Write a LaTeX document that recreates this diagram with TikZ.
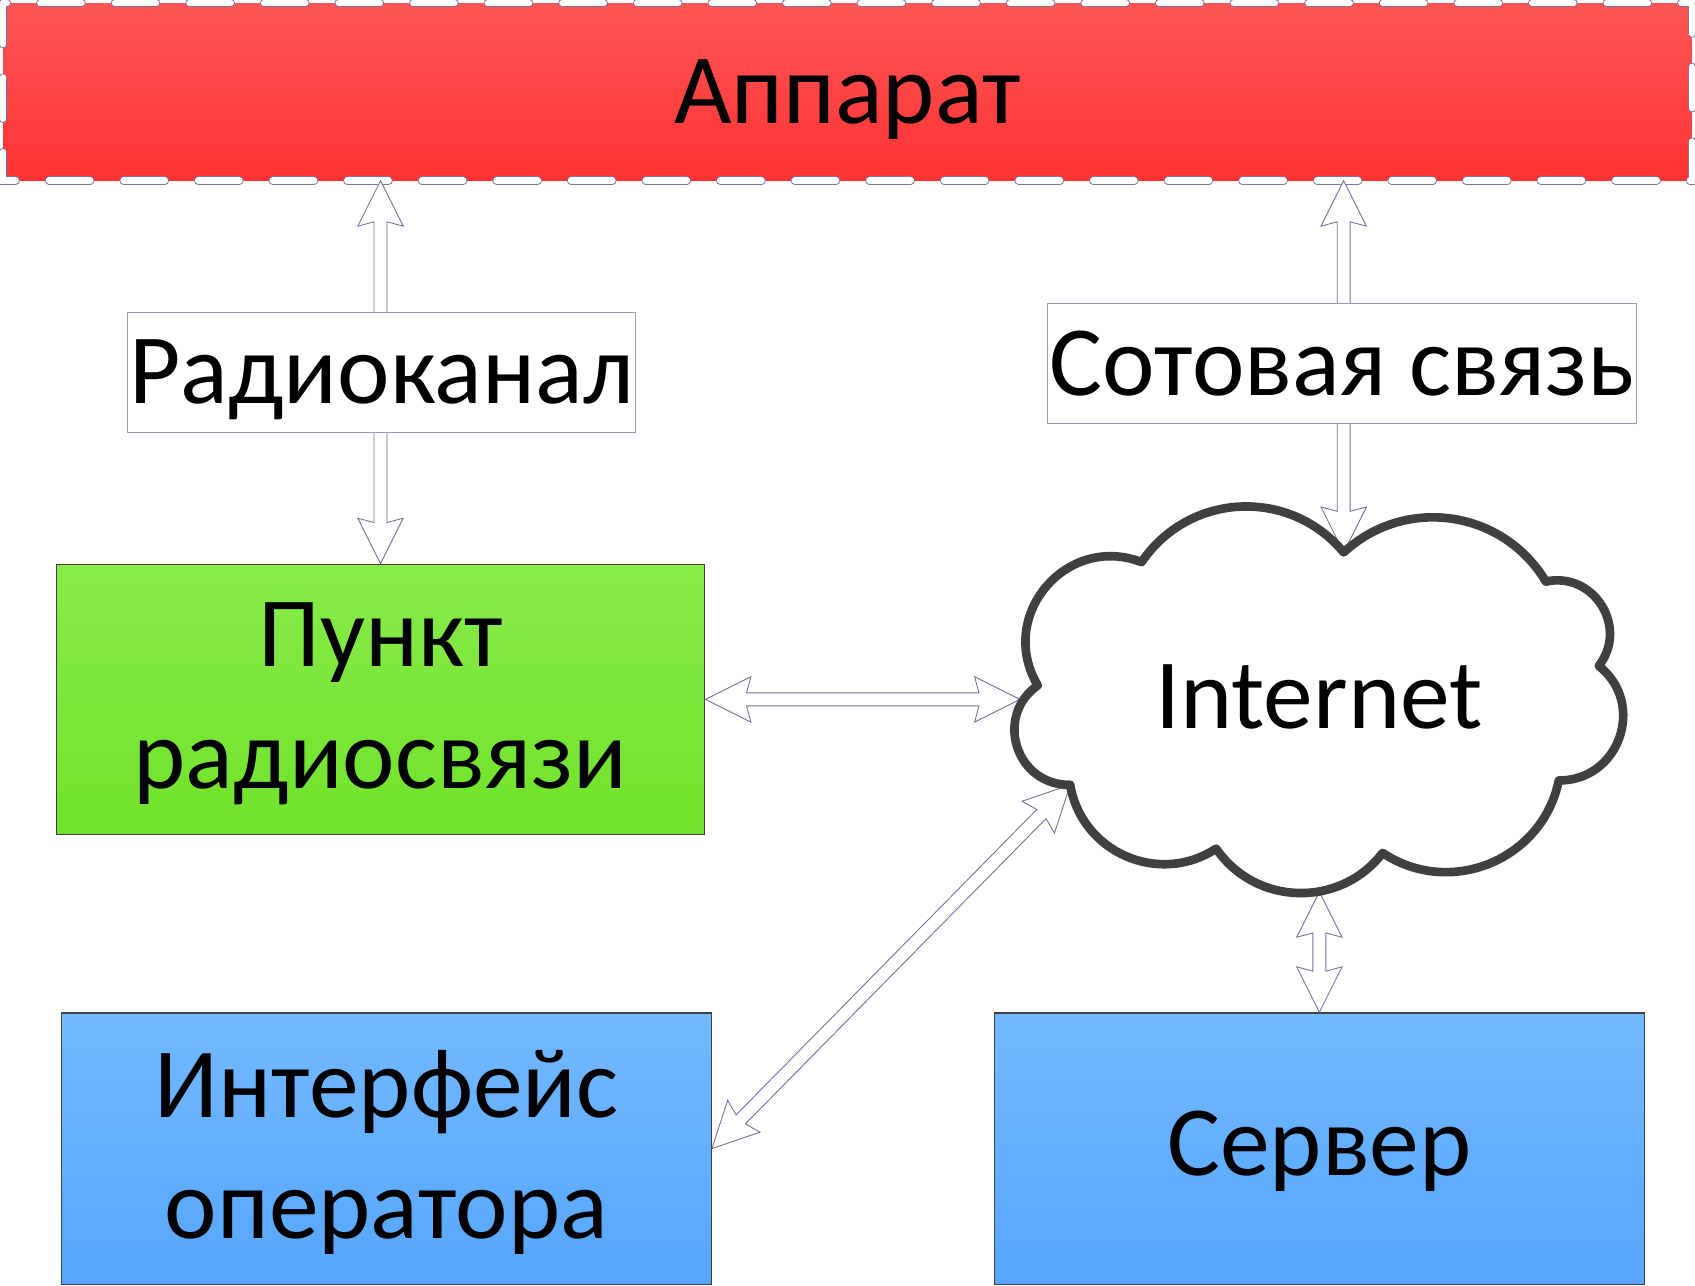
\documentclass[tikz,border=0pt]{standalone}
\usepackage{fontspec}
\setmainfont{Carlito}
\usetikzlibrary{calc}
\definecolor{arrowc}{RGB}{118,108,160}
\definecolor{dashc}{RGB}{125,115,155}
\definecolor{lblc}{RGB}{160,150,195}
\definecolor{boxc}{RGB}{64,64,64}
\definecolor{cloudc}{RGB}{64,64,64}
\definecolor{redtop}{RGB}{255,86,86}
\definecolor{redbot}{RGB}{255,50,50}
\definecolor{greentop}{RGB}{136,235,74}
\definecolor{greenbot}{RGB}{112,227,42}
\definecolor{bluetop}{RGB}{114,185,255}
\definecolor{bluebot}{RGB}{86,166,255}
\newcommand\dgfont{\fontsize{92}{112}\selectfont}
\newcommand\dblarrow[2]{%
  \draw[blockarrow] (#1)
    -- ($(#1)!42pt!(#2)!21pt!90:(#2)$)
    -- ($(#1)!38pt!(#2)!6pt!90:(#2)$)
    -- ($(#2)!38pt!(#1)!6pt!-90:(#1)$)
    -- ($(#2)!42pt!(#1)!21pt!-90:(#1)$)
    -- (#2)
    -- ($(#2)!42pt!(#1)!21pt!90:(#1)$)
    -- ($(#2)!38pt!(#1)!6pt!90:(#1)$)
    -- ($(#1)!38pt!(#2)!6pt!-90:(#2)$)
    -- ($(#1)!42pt!(#2)!21pt!-90:(#2)$)
    -- cycle;}
\tikzset{
  blockarrow/.style={draw=arrowc, line width=0.8pt, fill=white, line join=miter},
  boxbase/.style={rectangle, draw=boxc, line width=1.2pt, inner sep=0pt},
  greenbox/.style={boxbase, top color=greentop, bottom color=greenbot},
  bluebox/.style={boxbase, top color=bluetop, bottom color=bluebot},
  boxtext/.style={font=\dgfont, inner sep=0pt, align=center},
  lblbox/.style={rectangle, draw=lblc, line width=1pt, fill=white, font=\dgfont, inner sep=0pt, text height=58pt, text depth=0pt},
  barbox/.style={rectangle, top color=redtop, bottom color=redbot, font=\dgfont, inner sep=0pt, text height=58pt, text depth=0pt},
  dashouter/.style={draw=dashc, line width=8pt, dash pattern=on 38pt off 31pt, line cap=round},
  dashinner/.style={draw=white, line width=6.2pt, dash pattern=on 38pt off 31pt, line cap=round},
  cloudline/.style={draw=cloudc, line width=8pt, fill=white, line join=round},
  plaintext/.style={font=\dgfont, inner sep=0pt, text height=58pt, text depth=0pt}
}
\begin{document}
\begin{tikzpicture}[x=1pt,y=-1pt]
\useasboundingbox[fill=white] (0,0) rectangle (1568,1189);

% top bar
\node[barbox, minimum width=1562pt, minimum height=164pt] (bar) at (784,85) {Аппарат};
\draw[dashouter] (bar.north west) rectangle (bar.south east);
\draw[dashinner] (bar.north west) rectangle (bar.south east);

% boxes
\node[greenbox, minimum width=600pt, minimum height=250pt] (pnkt) at (352,647) {};
\node[boxtext] (pnkttext) at (352,651) {Пункт\\радиосвязи};
\node[bluebox, minimum width=601pt, minimum height=251pt] (intf) at (357.5,1062.5) {};
\node[boxtext] (intftext) at (357.5,1066) {Интерфейс\\оператора};
\node[bluebox, minimum width=601pt, minimum height=251pt] (srv) at (1220.5,1062.5) {};
\node[plaintext] (srvtext) at (1220.5,1058) {Сервер};

% cloud corner coordinates
\coordinate (c1) at (1056,520);
\coordinate (c2) at (1243,511);
\coordinate (c3) at (1430,538);
\coordinate (c4) at (1479,616);
\coordinate (c5) at (1442,722);
\coordinate (c6) at (1279,789);
\coordinate (c7) at (1125,785);
\coordinate (c8) at (990,726);
\coordinate (c9) at (960,634);
\coordinate (cl) at (943.6,647);
\coordinate (cb) at (1220.5,825);

% connectors
\dblarrow{pnkt.north |- bar.south}{pnkt.north}
\dblarrow{c2 |- bar.south}{c2}
\dblarrow{pnkt.east}{cl}
\dblarrow{intf.east}{c8}
\dblarrow{cb}{srv.north}

% cloud
\draw[cloudline] (c1)
  to[bend left=53, looseness=1.07] (c2)
  to[bend left=51, looseness=1.05] (c3)
  to[bend left=70, looseness=1.26] (c4)
  to[bend left=71, looseness=1.28] (c5)
  to[bend left=56, looseness=1.09] (c6)
  to[bend left=54, looseness=1.07] (c7)
  to[bend left=57, looseness=1.10] (c8)
  to[bend left=73, looseness=1.32] (c9)
  to[bend left=71, looseness=1.28] (c1) -- cycle;
\node[plaintext] (inet) at (1220,645) {Internet};

% label boxes on the vertical connectors
\node[lblbox, minimum width=470pt, minimum height=111pt] (rk) at (353,344.5) {Радиоканал};
\node[lblbox, minimum width=545pt, minimum height=111pt] (sv) at (1241.5,336.5) {Сотовая связь};
\end{tikzpicture}
\end{document}
